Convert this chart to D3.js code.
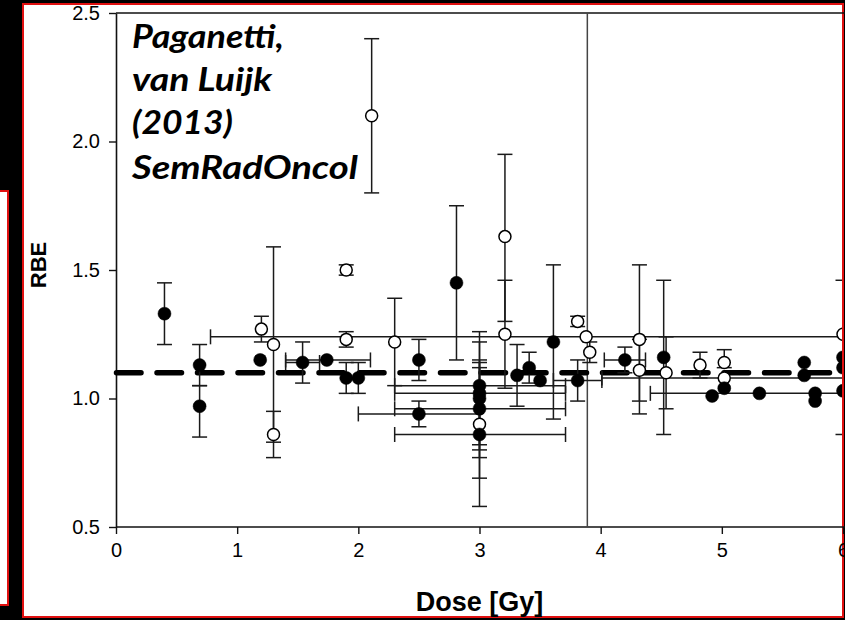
<!DOCTYPE html>
<html>
<head>
<meta charset="utf-8">
<script src="https://cdn.jsdelivr.net/npm/d3@7"></script>
<style>
  html, body { margin: 0; padding: 0; background: #000; }
  svg { display: block; }
  .tick text { font-family: "Liberation Sans", Arial, sans-serif; font-size: 20px; fill: #000; }
</style>
</head>
<body>
<svg id="chart" width="845" height="620"></svg>
<script>
// Axis ticks
const doseTicks = [0, 1, 2, 3, 4, 5, 6];
const rbeTicks = [0.5, 1.0, 1.5, 2.0, 2.5];

// Generic proton RBE and the reference dose marker
const genericRBE = 1.1;
const markerDose = 3.89;

// Filled symbols: dose, RBE, vertical error limits, horizontal error limits (null = none)
const filledDose = [0.40, 0.69, 0.69, 1.19, 1.54, 1.74, 1.90, 2.00, 2.50, 2.50, 2.81,
  3.00, 3.00, 3.00, 3.00, 3.00, 3.31, 3.41, 3.50, 3.61, 3.81, 4.20, 4.52,
  4.92, 5.02, 5.31, 5.68, 5.68, 5.77, 5.77, 6.00, 6.00, 6.00];
const filledRBE = [1.33, 1.13, 0.97, 1.15, 1.14, 1.15, 1.08, 1.08, 1.15, 0.94, 1.45,
  1.05, 1.02, 1.00, 0.96, 0.86, 1.09, 1.12, 1.07, 1.22, 1.07, 1.15, 1.16,
  1.01, 1.04, 1.02, 1.14, 1.09, 1.02, 0.99, 1.16, 1.12, 1.03];
const filledLow = [1.21, 1.05, 0.85, null, 1.06, null, 1.02, 1.02, 1.07, 0.89, 1.15,
  0.82, 0.80, 0.77, null, 0.58, 0.97, 1.06, null, 0.92, 0.99, 1.10, 0.86,
  null, null, null, null, null, null, null, 0.86, null, null];
const filledHigh = [1.45, 1.21, 1.05, null, 1.22, null, 1.14, 1.14, 1.23, 0.99, 1.75,
  1.26, 1.22, 1.15, null, 1.14, 1.21, 1.18, null, 1.52, 1.15, 1.20, 1.46,
  null, null, null, null, null, null, null, 1.46, null, null];
const filledDoseLow = [null, null, null, null, 1.40, 1.40, null, null, null, 2.00, null,
  2.30, 2.30, null, 2.30, 2.30, null, null, null, null, 3.61, 4.03, null,
  null, null, 4.41, null, null, null, null, null, null, null];
const filledDoseHigh = [null, null, null, null, 1.68, 2.10, null, null, null, 3.00, null,
  3.71, 3.71, null, 3.71, 3.71, null, null, null, null, 4.01, 4.37, null,
  null, null, 6.21, null, null, null, null, null, null, null];

// Open symbols
const openDose = [1.20, 1.30, 1.30, 1.90, 1.90, 2.11, 2.30, 3.00, 3.21, 3.21,
  3.81, 3.88, 3.91, 4.32, 4.32, 4.54, 4.82, 5.02, 5.02, 6.00];
const openRBE = [1.27, 1.21, 0.86, 1.50, 1.23, 2.10, 1.22, 0.90, 1.63, 1.25,
  1.30, 1.24, 1.18, 1.23, 1.11, 1.10, 1.13, 1.14, 1.08, 1.25];
const openLow = [1.22, 0.83, 0.77, 1.48, 1.20, 1.80, 1.05, 0.69, 1.30, 1.04,
  1.28, null, 1.14, 0.94, 0.99, 0.96, 1.08, 1.12, null, null];
const openHigh = [1.32, 1.59, 0.95, 1.52, 1.26, 2.40, 1.39, 1.12, 1.95, 1.46,
  1.32, null, 1.22, 1.52, 1.23, 1.24, 1.18, 1.19, null, null];
const openDoseLow = [null, null, null, null, null, null, null, null, null, null,
  null, 0.78, null, null, null, null, null, null, 4.01, null];
const openDoseHigh = [null, null, null, null, null, null, null, null, null, null,
  null, 6.98, null, null, null, null, null, null, 6.03, null];

// Citation printed inside the plot
const noteLines = ["Paganetti,", "van Luijk", "(2013)", "SemRadOncol"];
const xTitle = "Dose [Gy]";
const yTitle = "RBE";

const svg = d3.select("#chart");
const W = 845, H = 620;

// Panels
svg.append("rect").attr("x", 0).attr("y", 0).attr("width", W).attr("height", H).attr("fill", "#000");
svg.append("rect").attr("x", -4).attr("y", 191).attr("width", 12).attr("height", 414)
  .attr("fill", "#fff").attr("stroke", "#e01010").attr("stroke-width", 2);
svg.append("rect").attr("x", 23).attr("y", 4).attr("width", 820).attr("height", 613)
  .attr("fill", "#fff").attr("stroke", "#e01010").attr("stroke-width", 2);

const x = d3.scaleLinear().domain([0, 6]).range([116, 843]);
const y = d3.scaleLinear().domain([0.5, 2.5]).range([527, 13]);

const plot = svg.append("g");
plot.append("clipPath").attr("id", "clip").append("rect")
  .attr("x", 100).attr("y", 5).attr("width", 742).attr("height", 611);

// Axes
const yAxis = plot.append("g").attr("transform", `translate(${x(0)},0)`)
  .call(d3.axisLeft(y).tickValues(rbeTicks).tickFormat(d3.format(".1f")).tickSize(7).tickSizeOuter(0).tickPadding(9));
const xAxis = plot.append("g").attr("transform", `translate(0,${y(0.5)})`)
  .call(d3.axisBottom(x).tickValues(doseTicks).tickFormat(d3.format("d")).tickSize(7).tickSizeOuter(0).tickPadding(9));
[yAxis, xAxis].forEach(a => {
  a.select(".domain").attr("stroke", "#111").attr("stroke-width", 1.6);
  a.selectAll(".tick line").attr("stroke", "#111").attr("stroke-width", 1.4);
});
xAxis.select(".domain").attr("d", `M${x(0)},0H${W}`);
// Top frame line
plot.append("line").attr("x1", x(0)).attr("x2", W).attr("y1", y(2.5)).attr("y2", y(2.5))
  .attr("stroke", "#111").attr("stroke-width", 1.6);

const marks = plot.append("g").attr("clip-path", "url(#clip)");

// Reference dose line
marks.append("line").attr("x1", x(markerDose)).attr("x2", x(markerDose))
  .attr("y1", y(2.5)).attr("y2", y(0.5)).attr("stroke", "#444").attr("stroke-width", 1.5);

// Generic RBE = 1.1
marks.append("line").attr("x1", x(0) + 0.5).attr("x2", W + 10)
  .attr("y1", y(genericRBE)).attr("y2", y(genericRBE))
  .attr("stroke", "#000").attr("stroke-width", 5.5)
  .attr("stroke-linecap", "round").attr("stroke-dasharray", "24.5,16");

function buildRows(d, r, lo, hi, dlo, dhi, filled) {
  return d.map((v, i) => ({ dose: v, rbe: r[i], lo: lo[i], hi: hi[i], dlo: dlo[i], dhi: dhi[i], filled }));
}
const rows = buildRows(openDose, openRBE, openLow, openHigh, openDoseLow, openDoseHigh, false)
  .concat(buildRows(filledDose, filledRBE, filledLow, filledHigh, filledDoseLow, filledDoseHigh, true));

const cap = 7.5;
const errG = marks.append("g").attr("stroke", "#1a1a1a").attr("stroke-width", 1.5).attr("fill", "none");
rows.forEach(p => {
  const cx = x(p.dose), cy = y(p.rbe);
  if (p.lo !== null) {
    errG.append("line").attr("x1", cx).attr("x2", cx).attr("y1", y(p.hi)).attr("y2", y(p.lo));
    [p.lo, p.hi].forEach(v => errG.append("line").attr("x1", cx - cap).attr("x2", cx + cap).attr("y1", y(v)).attr("y2", y(v)));
  }
  if (p.dlo !== null) {
    errG.append("line").attr("x1", x(p.dlo)).attr("x2", x(p.dhi)).attr("y1", cy).attr("y2", cy);
    [p.dlo, p.dhi].forEach(v => errG.append("line").attr("x1", x(v)).attr("x2", x(v)).attr("y1", cy - cap).attr("y2", cy + cap));
  }
});

marks.append("g").selectAll("circle").data(rows).join("circle")
  .attr("cx", d => x(d.dose)).attr("cy", d => y(d.rbe))
  .attr("r", d => d.filled ? 6.5 : 6)
  .attr("fill", d => d.filled ? "#000" : "#fff")
  .attr("stroke", "#000").attr("stroke-width", d => d.filled ? 0.5 : 1.5);

// Titles
svg.append("text").attr("x", x(3)).attr("y", 611).attr("text-anchor", "middle")
  .attr("font-family", "Liberation Sans, Arial, sans-serif").attr("font-weight", "bold")
  .attr("font-size", 27).text(xTitle);
svg.append("text").attr("transform", "translate(46,265) rotate(-90)").attr("text-anchor", "middle")
  .attr("font-family", "Liberation Sans, Arial, sans-serif").attr("font-weight", "bold")
  .attr("font-size", 22).text(yTitle);

// Citation
const noteBase = [48, 91, 134, 179];
const noteWidth = [152, 140, 101, 226];
svg.append("g").selectAll("text").data(noteLines).join("text")
  .attr("x", 132).attr("y", (d, i) => noteBase[i])
  .attr("textLength", (d, i) => noteWidth[i]).attr("lengthAdjust", "spacingAndGlyphs")
  .attr("font-family", "Lato, 'Open Sans', sans-serif").attr("font-weight", 700)
  .attr("font-style", "italic").attr("font-size", 33).attr("fill", "#000")
  .text(d => d);
</script>
</body>
</html>
